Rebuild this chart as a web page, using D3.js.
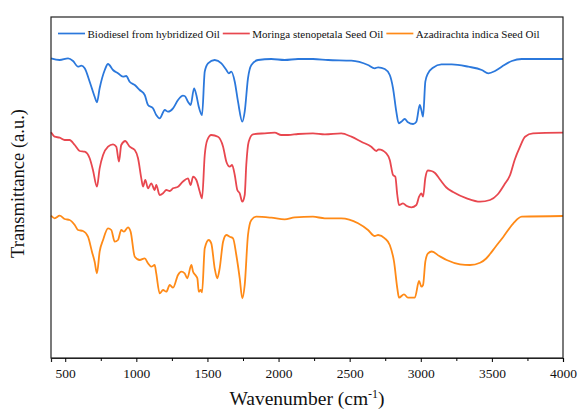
<!DOCTYPE html>
<html>
<head>
<meta charset="utf-8">
<script src="https://cdn.jsdelivr.net/npm/d3@7"></script>
<style>
  body { margin: 0; background: #fff; }
  svg text { font-family: "Liberation Serif", "Times New Roman", serif; fill: #111; }
</style>
</head>
<body>
<div id="chart"></div>
<script>
// FTIR spectra, [wavenumber cm-1, transmittance a.u. (offset stacked)]
const biodiesel = [
  [400, 299.7], [461, 298], [520, 299.7], [555, 297], [590, 291.3], [613, 292.3], [637, 289.7],
  [672, 276.3], [707, 261.3], [723, 255.7], [742, 269.7], [778, 288], [801, 294], [836, 288],
  [871, 284.7], [906, 281.3], [929, 282], [953, 276.3], [989, 273], [1024, 268], [1059, 263],
  [1082, 253], [1117, 249.7], [1140, 243], [1164, 239.7], [1200, 248], [1223, 246.3], [1258, 249.7],
  [1293, 258], [1328, 262.3], [1340, 262], [1363, 256.3], [1382, 253], [1406, 269.7], [1422, 263],
  [1439, 251.3], [1462, 243], [1481, 286.3], [1504, 294.7], [1551, 298], [1598, 294.7], [1633, 288],
  [1650, 284.7], [1668, 286.3], [1692, 276.3], [1715, 256.3], [1745, 236.3], [1762, 246.3],
  [1785, 279.7], [1809, 293], [1856, 298], [1949, 299], [2043, 298], [2137, 299], [2242, 299],
  [2348, 298], [2512, 297.3], [2629, 293], [2676, 289.7], [2700, 290.7], [2747, 289], [2782, 283],
  [2805, 269.7], [2828, 246.3], [2845, 234.7], [2863, 236.3], [2887, 239], [2910, 235.7], [2946, 234],
  [2969, 236.3], [2993, 253], [3004, 248], [3016, 241.3], [3032, 276.3], [3051, 284.7], [3086, 290.3],
  [3145, 293.7], [3218, 293.7], [3334, 291.3], [3429, 288], [3475, 284.7], [3522, 287], [3569, 291.3],
  [3640, 297], [3710, 299], [4000, 299]
];

const moringa = [
  [400, 225.7], [426, 221.3], [461, 220.3], [496, 218], [531, 218], [567, 213], [602, 207], [637, 206.3],
  [672, 199.7], [695, 188], [723, 171.3], [742, 189.7], [766, 203], [801, 211.3], [836, 213.7],
  [859, 211.3], [878, 196.3], [894, 213], [922, 217], [953, 211.3], [989, 208], [1012, 199.7],
  [1035, 179.7], [1047, 171.3], [1063, 178], [1082, 169.7], [1105, 174.7], [1129, 168], [1140, 173],
  [1164, 163], [1188, 164.7], [1211, 168], [1235, 167], [1258, 169.7], [1293, 171.3], [1328, 176.5],
  [1363, 179.7], [1382, 173], [1399, 181.3], [1422, 178], [1446, 166.3], [1462, 159.7], [1481, 203],
  [1499, 218], [1527, 223], [1574, 221.3], [1610, 211.3], [1633, 196.3], [1657, 191.3], [1673, 193],
  [1692, 183], [1710, 168], [1727, 164.7], [1745, 156.3], [1762, 163], [1773, 193], [1790, 216.3],
  [1820, 223.7], [1903, 224.7], [1973, 225.3], [2019, 223], [2067, 223], [2137, 224], [2242, 224.7],
  [2325, 223.7], [2441, 224.7], [2512, 221.3], [2582, 216.3], [2652, 211.3], [2688, 207], [2704, 208.7],
  [2758, 204.7], [2782, 198], [2805, 183], [2821, 181.3], [2835, 163], [2847, 153], [2875, 154.7],
  [2898, 152.3], [2934, 150.7], [2969, 153], [2988, 161.3], [3004, 164.7], [3016, 161.3], [3032, 180],
  [3050, 187.5], [3075, 187], [3100, 185], [3135, 178.5], [3180, 170.5], [3227, 166], [3323, 159.7],
  [3417, 156.3], [3487, 158], [3540, 163.5], [3590, 174], [3628, 183], [3660, 198], [3698, 211.3],
  [3733, 221.3], [3789, 224.7], [4000, 225.3]
];

const azadirachta = [
  [400, 142.3], [426, 139.7], [461, 142.3], [496, 139], [531, 138], [567, 133], [590, 128], [625, 127],
  [660, 121.3], [688, 106.3], [707, 96.3], [723, 84.7], [742, 106.3], [766, 118], [801, 129.7],
  [824, 128], [848, 116.3], [871, 118], [894, 128], [913, 126.3], [941, 130.7], [960, 126.3],
  [989, 101.3], [1024, 98], [1059, 99.7], [1082, 94.7], [1105, 91.3], [1129, 93], [1140, 84.7],
  [1164, 64.7], [1188, 68], [1211, 66.3], [1235, 73], [1258, 70.3], [1293, 83], [1316, 86.3],
  [1340, 84.7], [1358, 79.7], [1387, 93], [1399, 86.3], [1415, 83], [1429, 79.7], [1439, 66.3],
  [1453, 68], [1462, 65.7], [1481, 109.7], [1509, 118], [1527, 114.7], [1551, 89.7], [1569, 79.7],
  [1586, 89.7], [1610, 116.3], [1633, 123], [1657, 121.3], [1680, 119.7], [1703, 103], [1727, 79.7],
  [1745, 59.7], [1762, 73], [1785, 123], [1809, 138], [1844, 141.3], [1949, 140.3], [2043, 138.7],
  [2114, 140.7], [2242, 141.3], [2325, 139.7], [2441, 139.7], [2559, 134.7], [2629, 128], [2676, 122],
  [2700, 123], [2747, 119.7], [2782, 113], [2812, 96.3], [2835, 69.7], [2847, 60.3], [2882, 63.7],
  [2910, 60.3], [2958, 60.3], [2988, 77], [3004, 71.3], [3016, 73], [3032, 96.3], [3051, 104.7],
  [3077, 106.5], [3130, 102], [3182, 98], [3276, 93.7], [3346, 93], [3417, 95.3], [3460, 99.5],
  [3487, 104], [3522, 110.5], [3581, 121.3], [3651, 134.7], [3710, 141.3], [4000, 142]
];

const seriesNames = ["Biodiesel from hybridized Oil", "Moringa stenopetala Seed Oil", "Azadirachta indica Seed Oil"];
const seriesColors = ["#2b78dc", "#e8474f", "#ff8a17"];
const xTicks = [500, 1000, 1500, 2000, 2500, 3000, 3500, 4000];
const xMinorTicks = [750, 1250, 1750, 2250, 2750, 3250, 3750];

function drawChart() {
  const margin = { top: 17, right: 17, bottom: 52, left: 51 },
        width  = 580 - margin.left - margin.right,
        height = 410 - margin.top - margin.bottom;

  const svg = d3.select("#chart").append("svg")
      .attr("width", width + margin.left + margin.right)
      .attr("height", height + margin.top + margin.bottom)
    .append("g")
      .attr("transform", `translate(${margin.left},${margin.top})`);

  const x = d3.scaleLinear().domain([400, 4000]).range([0, width]);
  const y = d3.scaleLinear().domain([0, 341]).range([height, 0]);

  const line = d3.line()
      .x(d => x(d[0]))
      .y(d => y(d[1]))
      .curve(d3.curveMonotoneX);

  [biodiesel, moringa, azadirachta].forEach((data, i) => {
    svg.append("path")
        .datum(data)
        .attr("fill", "none")
        .attr("stroke", seriesColors[i])
        .attr("stroke-width", 1.8)
        .attr("stroke-linejoin", "round")
        .attr("d", line);
  });

  // frame
  svg.append("rect")
      .attr("width", width)
      .attr("height", height)
      .attr("fill", "none")
      .attr("stroke", "#222")
      .attr("stroke-width", 1.2);

  // x axis
  const xAxis = svg.append("g")
      .attr("transform", `translate(0,${height})`)
      .call(d3.axisBottom(x).tickValues(xTicks).tickSize(4).tickPadding(6).tickFormat(d3.format("d")));
  xAxis.select(".domain").attr("stroke", "#222").attr("stroke-width", 1.2);
  xAxis.selectAll("text")
      .style("font-size", "13.5px")
      .style("font-family", "'Liberation Serif', 'Times New Roman', serif");

  svg.append("g")
      .attr("transform", `translate(0,${height})`)
      .call(d3.axisBottom(x).tickValues(xMinorTicks).tickSize(3).tickFormat(""))
      .select(".domain").remove();

  // titles
  const xt = svg.append("text")
      .attr("x", width / 2)
      .attr("y", height + 47)
      .attr("text-anchor", "middle")
      .style("font-size", "19.5px");
  xt.append("tspan").text("Wavenumber (cm");
  xt.append("tspan").attr("dy", -7).style("font-size", "12px").text("-1");
  xt.append("tspan").attr("dy", 7).text(")");

  svg.append("text")
      .attr("transform", "rotate(-90)")
      .attr("x", -(height / 2) + 4)
      .attr("y", -27)
      .attr("text-anchor", "middle")
      .style("font-size", "18.5px")
      .text("Transmittance (a.u.)");

  // legend
  const legend = svg.append("g").attr("transform", "translate(7,17)");
  let lx = 0;
  seriesNames.forEach((name, i) => {
    legend.append("line")
        .attr("x1", lx).attr("x2", lx + 27)
        .attr("y1", -0.5).attr("y2", -0.5)
        .attr("stroke", seriesColors[i])
        .attr("stroke-width", 1.7);
    const t = legend.append("text")
        .attr("x", lx + 29.5)
        .attr("y", 3.5)
        .style("font-size", "11px")
        .text(name);
    lx += 29.5 + t.node().getComputedTextLength() + 3;
  });
}

drawChart();
</script>
</body>
</html>
